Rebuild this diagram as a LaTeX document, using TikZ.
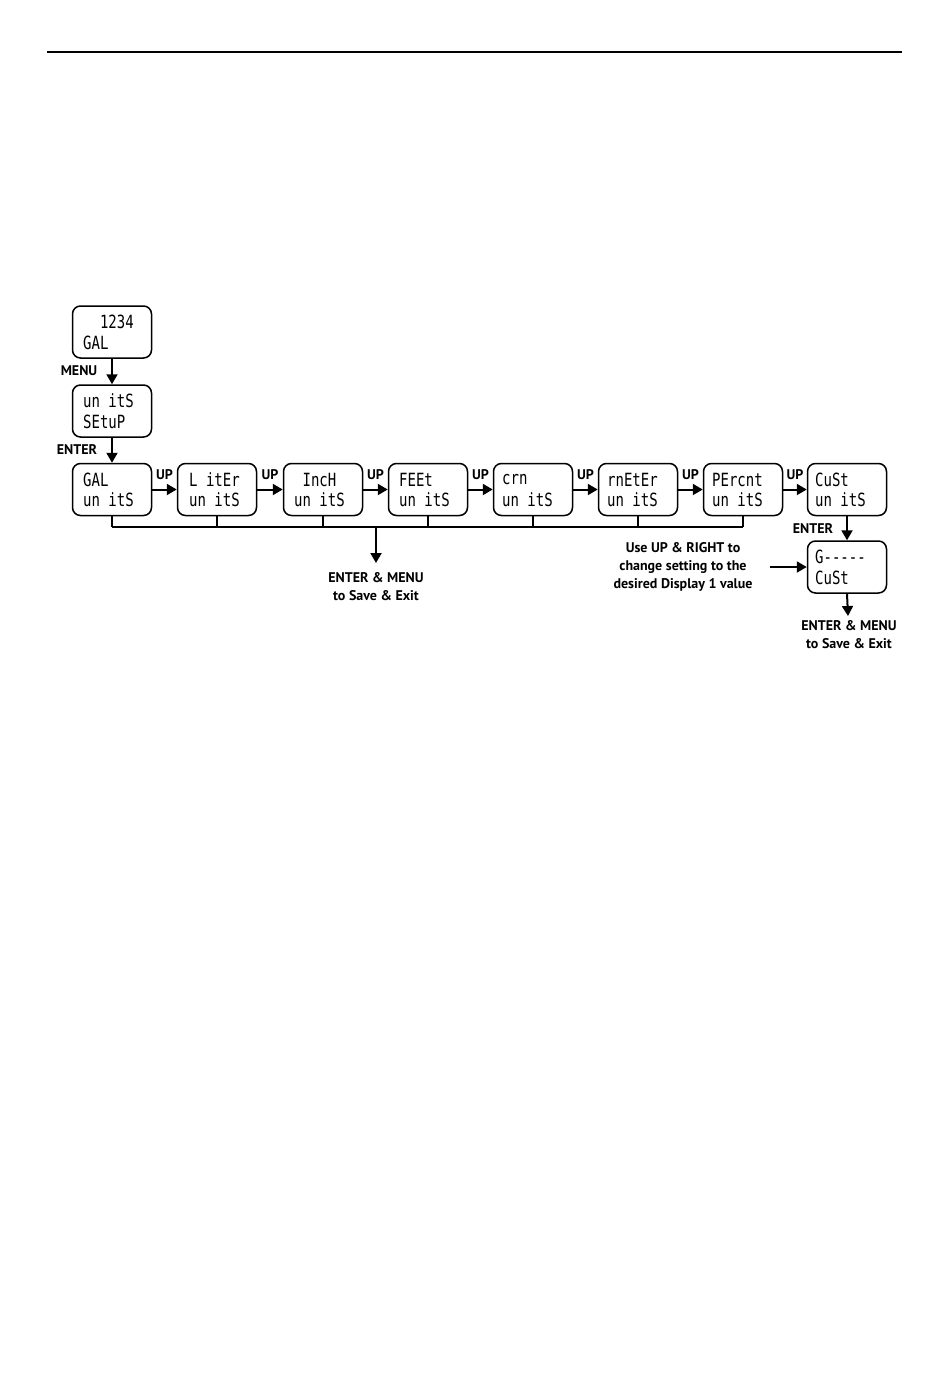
\documentclass[tikz,border=0pt]{standalone}
\usepackage{fontspec}
\setmainfont{PT Sans}
\newfontfamily\lcdfont{DejaVu Sans Mono}
\usetikzlibrary{arrows.meta}
\newcommand{\lcd}[1]{\scalebox{1}[1.3]{#1}}
\begin{document}
\begin{tikzpicture}[x=1pt,y=-1pt,
  box/.style={draw, line width=1.5pt, rounded corners=8pt, minimum width=79pt, minimum height=52pt, inner sep=0pt},
  lcdtxt/.style={anchor=west, inner sep=0pt, font=\lcdfont\fontsize{14}{14}\selectfont},
  lab/.style={font=\bfseries\fontsize{14}{18}\selectfont, inner sep=0pt, align=center},
  arr/.style={line width=2pt, -{Triangle[length=10pt,width=11pt]}},
  tick/.style={line width=1.8pt},
  bus/.style={line width=2.6pt}]
\useasboundingbox (0,0) rectangle (950,1394);
\coordinate (ruleL) at (47,52);
\coordinate (ruleR) at (902,52);
\draw[line width=1.3pt] (ruleL) -- (ruleR);

% boxes
\node[box] (b1) at (112,332) {};
\node[box] (b2) at (112,411) {};
\node[box] (r1) at (112,489.5) {};
\node[box] (r2) at (217,489.5) {};
\node[box] (r3) at (323,489.5) {};
\node[box] (r4) at (428,489.5) {};
\node[box] (r5) at (533,489.5) {};
\node[box] (r6) at (638,489.5) {};
\node[box] (r7) at (743,489.5) {};
\node[box] (r8) at (847,489.5) {};
\node[box] (g) at (847,567) {};

% display texts
\node[lcdtxt] (b1a) at ([xshift=-29pt,yshift=10pt]b1.center) {\lcd{\phantom{00}1234}};
\node[lcdtxt] (b1b) at ([xshift=-29pt,yshift=-11pt]b1.center) {\lcd{GAL}};
\node[lcdtxt] (b2a) at ([xshift=-29pt,yshift=10pt]b2.center) {\lcd{un~itS}};
\node[lcdtxt] (b2b) at ([xshift=-29pt,yshift=-11pt]b2.center) {\lcd{SEtuP}};
\node[lcdtxt] (r1a) at ([xshift=-29pt,yshift=9.5pt]r1.center) {\lcd{GAL}};
\node[lcdtxt] (r1b) at ([xshift=-29pt,yshift=-10.5pt]r1.center) {\lcd{un~itS}};
\node[lcdtxt] (r2a) at ([xshift=-28pt,yshift=9.5pt]r2.center) {\lcd{L~itEr}};
\node[lcdtxt] (r2b) at ([xshift=-28pt,yshift=-10.5pt]r2.center) {\lcd{un~itS}};
\node[lcdtxt] (r3a) at ([xshift=-29pt,yshift=9.5pt]r3.center) {\lcd{\phantom{0}IncH}};
\node[lcdtxt] (r3b) at ([xshift=-29pt,yshift=-10.5pt]r3.center) {\lcd{un~itS}};
\node[lcdtxt] (r4a) at ([xshift=-29pt,yshift=9.5pt]r4.center) {\lcd{FEEt}};
\node[lcdtxt] (r4b) at ([xshift=-29pt,yshift=-10.5pt]r4.center) {\lcd{un~itS}};
\node[lcdtxt] (r5a) at ([xshift=-31pt,yshift=9.5pt]r5.center) {\lcd{crn}};
\node[lcdtxt] (r5b) at ([xshift=-31pt,yshift=-10.5pt]r5.center) {\lcd{un~itS}};
\node[lcdtxt] (r6a) at ([xshift=-31pt,yshift=9.5pt]r6.center) {\lcd{rnEtEr}};
\node[lcdtxt] (r6b) at ([xshift=-31pt,yshift=-10.5pt]r6.center) {\lcd{un~itS}};
\node[lcdtxt] (r7a) at ([xshift=-31pt,yshift=9.5pt]r7.center) {\lcd{PErcnt}};
\node[lcdtxt] (r7b) at ([xshift=-31pt,yshift=-10.5pt]r7.center) {\lcd{un~itS}};
\node[lcdtxt] (r8a) at ([xshift=-32pt,yshift=9.5pt]r8.center) {\lcd{CuSt}};
\node[lcdtxt] (r8b) at ([xshift=-32pt,yshift=-10.5pt]r8.center) {\lcd{un~itS}};
\node[lcdtxt] (ga) at ([xshift=-32pt,yshift=10pt]g.center) {\lcd{G-----}};
\node[lcdtxt] (gb) at ([xshift=-32pt,yshift=-11pt]g.center) {\lcd{CuSt}};

% vertical flow
\draw[arr] (b1.south) -- (b2.north);
\draw[arr] (b2.south) -- (r1.north);
\node[lab] (menu) at (79,371) {MENU};
\node[lab] (enter1) at (77,450) {ENTER};

% row arrows
\foreach \a/\b in {r1/r2,r2/r3,r3/r4,r4/r5,r5/r6,r6/r7,r7/r8}{
  \draw[arr] (\a.east) -- (\b.west) node[lab, midway, yshift=15pt] (up-\a) {UP};
}

% bus
\coordinate (busL) at (112,527);
\draw[bus] (r1.south |- busL) -- (r7.south |- busL);
\foreach \a in {r1,r2,r3,r4,r5,r6,r7}{
  \draw[tick] (\a.south) -- (\a.south |- busL);
}
\coordinate (busM) at (376,527);
\coordinate (exitA) at (376,563);
\draw[arr] (busM) -- (exitA);
\node[lab] (save1) at (376,587) {ENTER \& MENU\\to Save \& Exit};

% custom branch
\draw[arr] (r8.south) -- (g.north);
\node[lab] (enter2) at (813,529) {ENTER};
\node[lab] (use) at (683,567) {Use UP \& RIGHT to\\change setting to the\\desired Display 1 value};
\coordinate (useA) at (770,567);
\draw[arr] (useA) -- (g.west);
\coordinate (exitB) at (848,616);
\draw[arr] (g.south) -- (exitB);
\node[lab] (save2) at (849,635) {ENTER \& MENU\\to Save \& Exit};
\end{tikzpicture}
\end{document}
